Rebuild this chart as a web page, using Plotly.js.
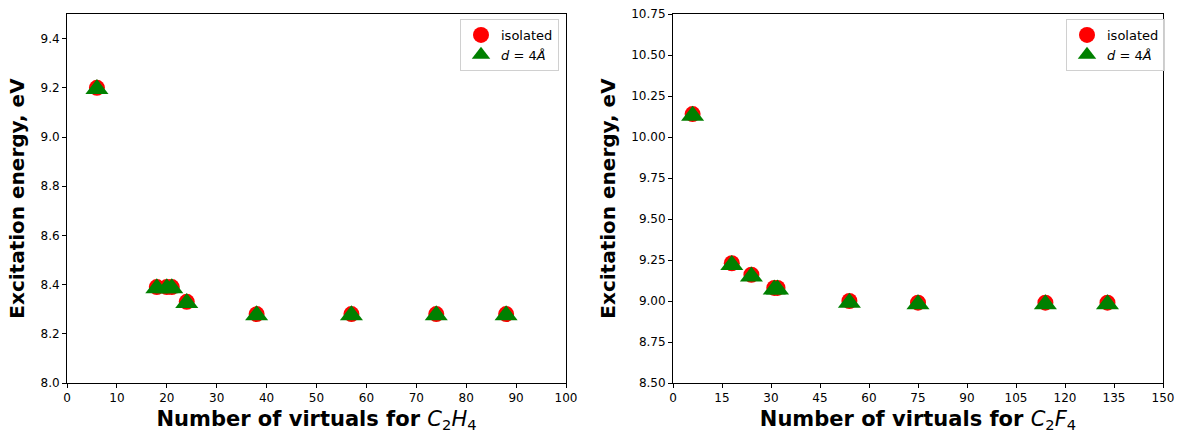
<!DOCTYPE html>
<html>
<head>
<meta charset="utf-8">
<script src="https://cdn.plot.ly/plotly-3.0.1.min.js"></script>
<style>
  html, body { margin: 0; padding: 0; background: #fff; }
  #chart { width: 1188px; height: 433px; }
</style>
</head>
<body>
<div id="chart"></div>
<script>
// C2H4: number of virtual orbitals vs excitation energy (eV)
const c2h4Virtuals = [6, 18, 20, 21, 24, 38, 57, 74, 88];
const c2h4Isolated = [9.20, 8.39, 8.39, 8.39, 8.33, 8.28, 8.28, 8.28, 8.28];
const c2h4D4 = [9.195, 8.385, 8.385, 8.385, 8.325, 8.275, 8.275, 8.275, 8.275];

// C2F4: number of virtual orbitals vs excitation energy (eV)
const c2f4Virtuals = [6, 18, 24, 31, 32, 54, 75, 114, 133];
const c2f4Isolated = [10.14, 9.23, 9.16, 9.08, 9.08, 9.00, 8.99, 8.99, 8.99];
const c2f4D4 = [10.13, 9.22, 9.15, 9.07, 9.07, 8.99, 8.98, 8.98, 8.98];

const seriesNames = ['isolated', '<i>d</i> = 4<i>Å</i>'];

const FONT = 'DejaVu Sans, sans-serif';

const circle = { symbol: 'circle', size: 16, color: '#ff0000', line: { width: 0 } };
const triangle = { symbol: 'triangle-up', size: 20, color: '#008000', line: { width: 0 } };

const traces = [
  { x: c2h4Virtuals, y: c2h4Isolated, name: seriesNames[0], mode: 'markers', type: 'scatter',
    marker: circle, xaxis: 'x', yaxis: 'y', legend: 'legend' },
  { x: c2h4Virtuals, y: c2h4D4, name: seriesNames[1], mode: 'markers', type: 'scatter',
    marker: triangle, xaxis: 'x', yaxis: 'y', legend: 'legend' },
  { x: c2f4Virtuals, y: c2f4Isolated, name: seriesNames[0], mode: 'markers', type: 'scatter',
    marker: circle, xaxis: 'x2', yaxis: 'y2', legend: 'legend2' },
  { x: c2f4Virtuals, y: c2f4D4, name: seriesNames[1], mode: 'markers', type: 'scatter',
    marker: triangle, xaxis: 'x2', yaxis: 'y2', legend: 'legend2' }
];

const axisBase = {
  showline: true, linecolor: '#000', linewidth: 1, mirror: true,
  ticks: 'outside', ticklen: 4, tickwidth: 1, tickcolor: '#000',
  showgrid: false, zeroline: false, automargin: false,
  tickfont: { family: FONT, size: 12, color: '#000' }
};

const xTitleFont = { family: FONT, size: 21, color: '#000', weight: 'normal' };
const yTitleFont = { family: FONT, size: 20, color: '#000', weight: 'normal' };

const legendBase = {
  bgcolor: 'rgba(255,255,255,0.8)', bordercolor: '#d0d0d0', borderwidth: 1,
  font: { family: FONT, size: 13, color: '#000' },
  xanchor: 'right', yanchor: 'top', itemsizing: 'trace', tracegroupgap: 0
};

const layout = {
  width: 1188, height: 433,
  margin: { l: 0, r: 0, t: 0, b: 0 },
  paper_bgcolor: '#fff', plot_bgcolor: '#fff',
  font: { family: FONT, color: '#000' },
  xaxis: Object.assign({}, axisBase, {
    domain: [67 / 1188, 566 / 1188], range: [0, 100], dtick: 10, tick0: 0,
    anchor: 'y',
    title: { text: '<b>Number of virtuals for </b><i>C</i><sub>2</sub><i>H</i><sub>4</sub>',
             font: xTitleFont, standoff: 8 }
  }),
  yaxis: Object.assign({}, axisBase, {
    domain: [50 / 433, 419 / 433], range: [8.0, 9.5], dtick: 0.2, tick0: 8.0,
    tickformat: '.1f', anchor: 'x',
    title: { text: '<b>Excitation energy, eV</b>', font: yTitleFont, standoff: 10 }
  }),
  xaxis2: Object.assign({}, axisBase, {
    domain: [673 / 1188, 1163 / 1188], range: [0, 150], dtick: 15, tick0: 0,
    anchor: 'y2',
    title: { text: '<b>Number of virtuals for </b><i>C</i><sub>2</sub><i>F</i><sub>4</sub>',
             font: xTitleFont, standoff: 8 }
  }),
  yaxis2: Object.assign({}, axisBase, {
    domain: [50 / 433, 419 / 433], range: [8.5, 10.75], dtick: 0.25, tick0: 8.5,
    tickformat: '.2f', anchor: 'x2',
    title: { text: '<b>Excitation energy, eV</b>', font: yTitleFont, standoff: 10 }
  }),
  legend: Object.assign({}, legendBase, { x: 559 / 1188, y: 414 / 433 }),
  legend2: Object.assign({}, legendBase, { x: 1165 / 1188, y: 414 / 433 }),
  showlegend: true
};

Plotly.newPlot('chart', traces, layout, { displayModeBar: false, staticPlot: true });
</script>
</body>
</html>
